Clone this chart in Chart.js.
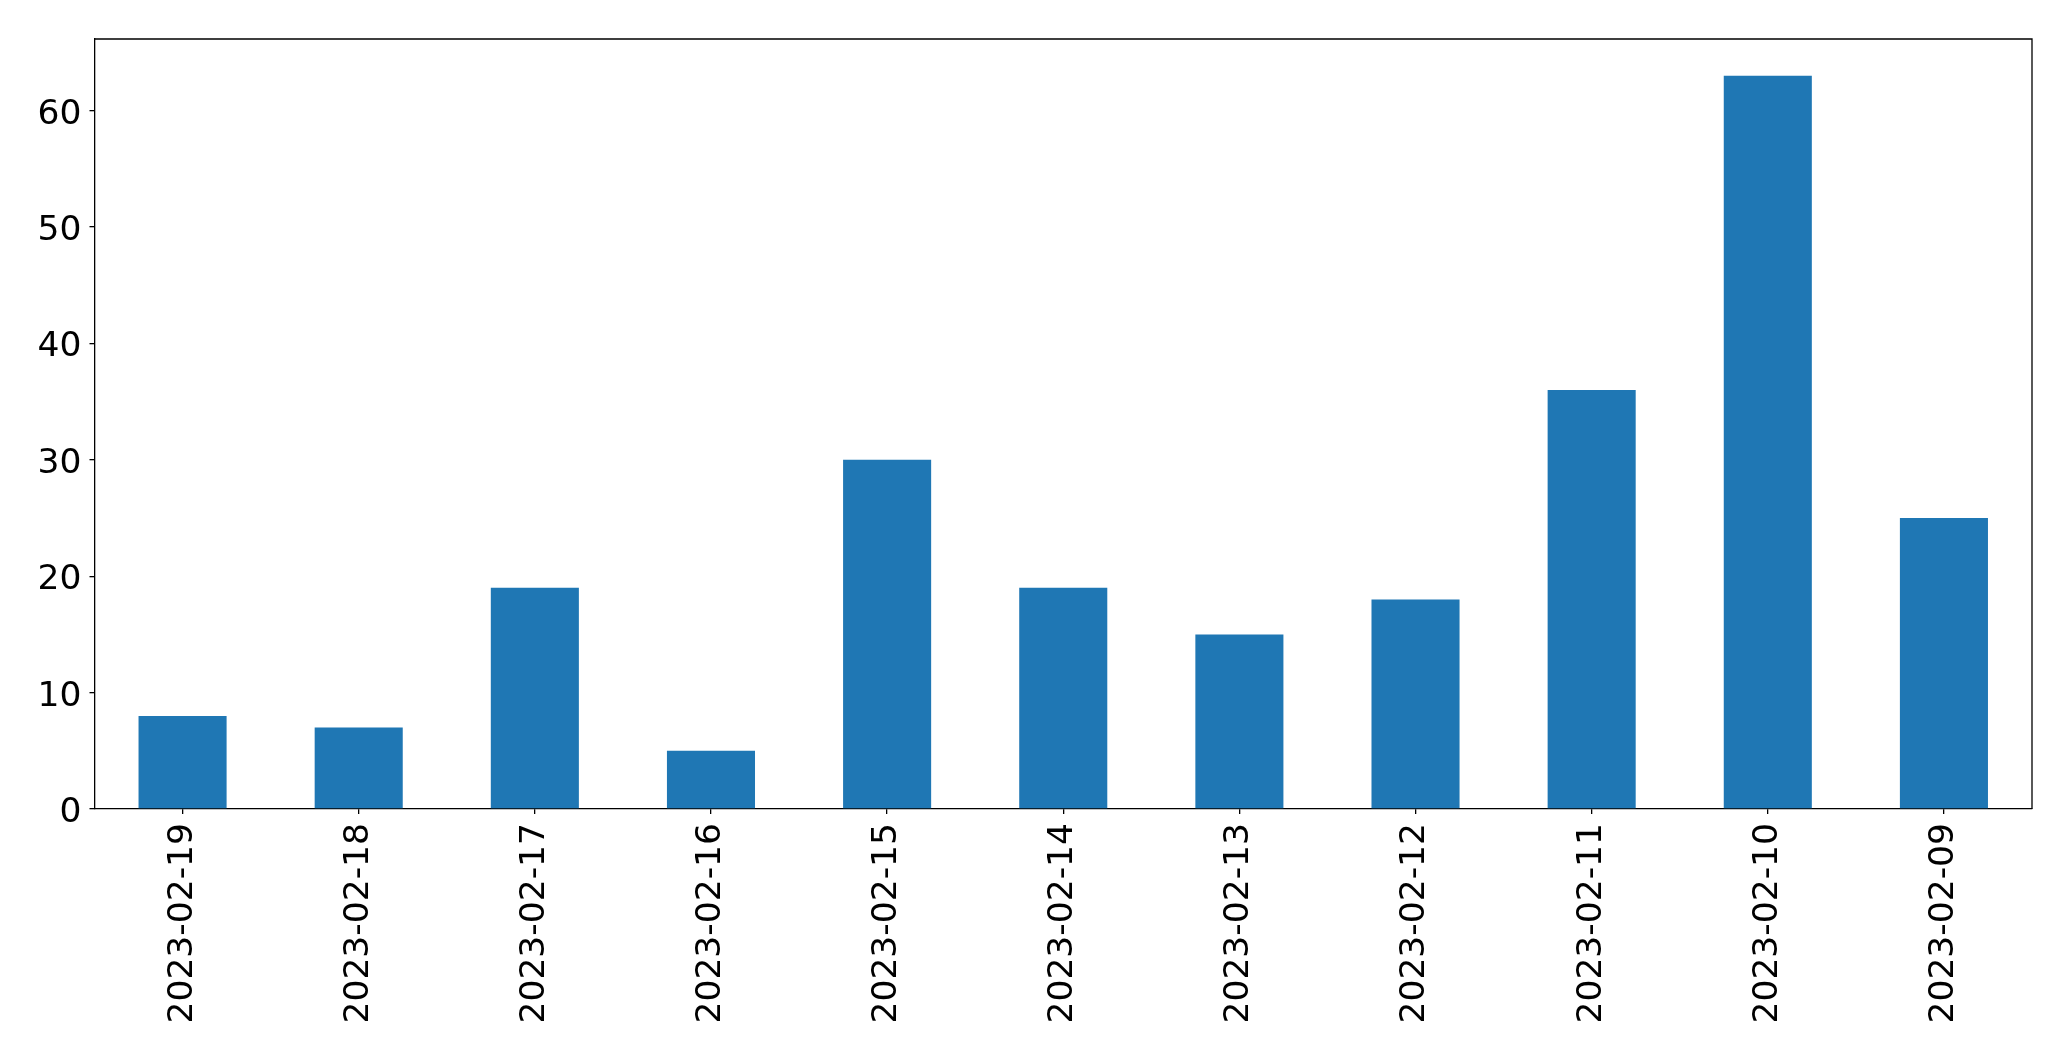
<!DOCTYPE html>
<html>
<head>
<meta charset="utf-8">
<script src="https://cdn.jsdelivr.net/npm/chart.js@4"></script>
<style>
  html, body { margin: 0; padding: 0; background: #fff; }
  #wrap { width: 2071px; height: 1061px; }
</style>
</head>
<body>
<div id="wrap"><canvas id="myChart"></canvas></div>
<script>
// values
const dates = ['2023-02-19', '2023-02-18', '2023-02-17', '2023-02-16', '2023-02-15', '2023-02-14',
               '2023-02-13', '2023-02-12', '2023-02-11', '2023-02-10', '2023-02-09'];
const counts = [8, 7, 19, 5, 30, 19, 15, 18, 36, 63, 25];
const yTicks = [0, 10, 20, 30, 40, 50, 60];

const tickFont = { family: 'DejaVu Sans', size: 34.5 };

// top and right sides of the axes box
const boxPlugin = {
  id: 'box',
  afterDraw(chart) {
    const a = chart.chartArea;
    const c = chart.ctx;
    c.save();
    c.strokeStyle = '#000';
    c.lineWidth = 1.3;
    c.beginPath();
    c.moveTo(a.left, a.top);
    c.lineTo(a.right, a.top);
    c.lineTo(a.right, a.bottom);
    c.stroke();
    c.restore();
  }
};

const ctx = document.getElementById('myChart');

new Chart(ctx, {
  type: 'bar',
  data: {
    labels: dates,
    datasets: [{
      data: counts,
      backgroundColor: '#1f77b4',
      borderWidth: 0,
      barPercentage: 0.5,
      categoryPercentage: 1.0,
    }],
  },
  options: {
    responsive: true,
    maintainAspectRatio: false,
    animation: false,
    layout: { padding: { left: 0, top: 39, right: 39, bottom: 0 } },
    plugins: { legend: { display: false }, tooltip: { enabled: false } },
    scales: {
      x: {
        offset: true,
        grid: { display: true, offset: false, drawOnChartArea: false, drawTicks: true, tickLength: 5, color: '#000', lineWidth: 1.3 },
        border: { display: true, color: '#000', width: 1.3 },
        ticks: { color: '#000', font: tickFont, minRotation: 90, maxRotation: 90, padding: 9, autoSkip: false },
        afterFit(scale) { scale.height = 252; },
      },
      y: {
        min: 0,
        max: 66.15,
        grid: { display: true, drawOnChartArea: false, drawTicks: true, tickLength: 5, color: '#000', lineWidth: 1.3 },
        border: { display: true, color: '#000', width: 1.3 },
        ticks: { color: '#000', font: tickFont, padding: 8, labelOffset: 4 },
        afterBuildTicks(scale) { scale.ticks = yTicks.map(v => ({ value: v })); },
        afterFit(scale) { scale.width = 94.5; },
      },
    },
  },
  plugins: [boxPlugin],
});
</script>
</body>
</html>
